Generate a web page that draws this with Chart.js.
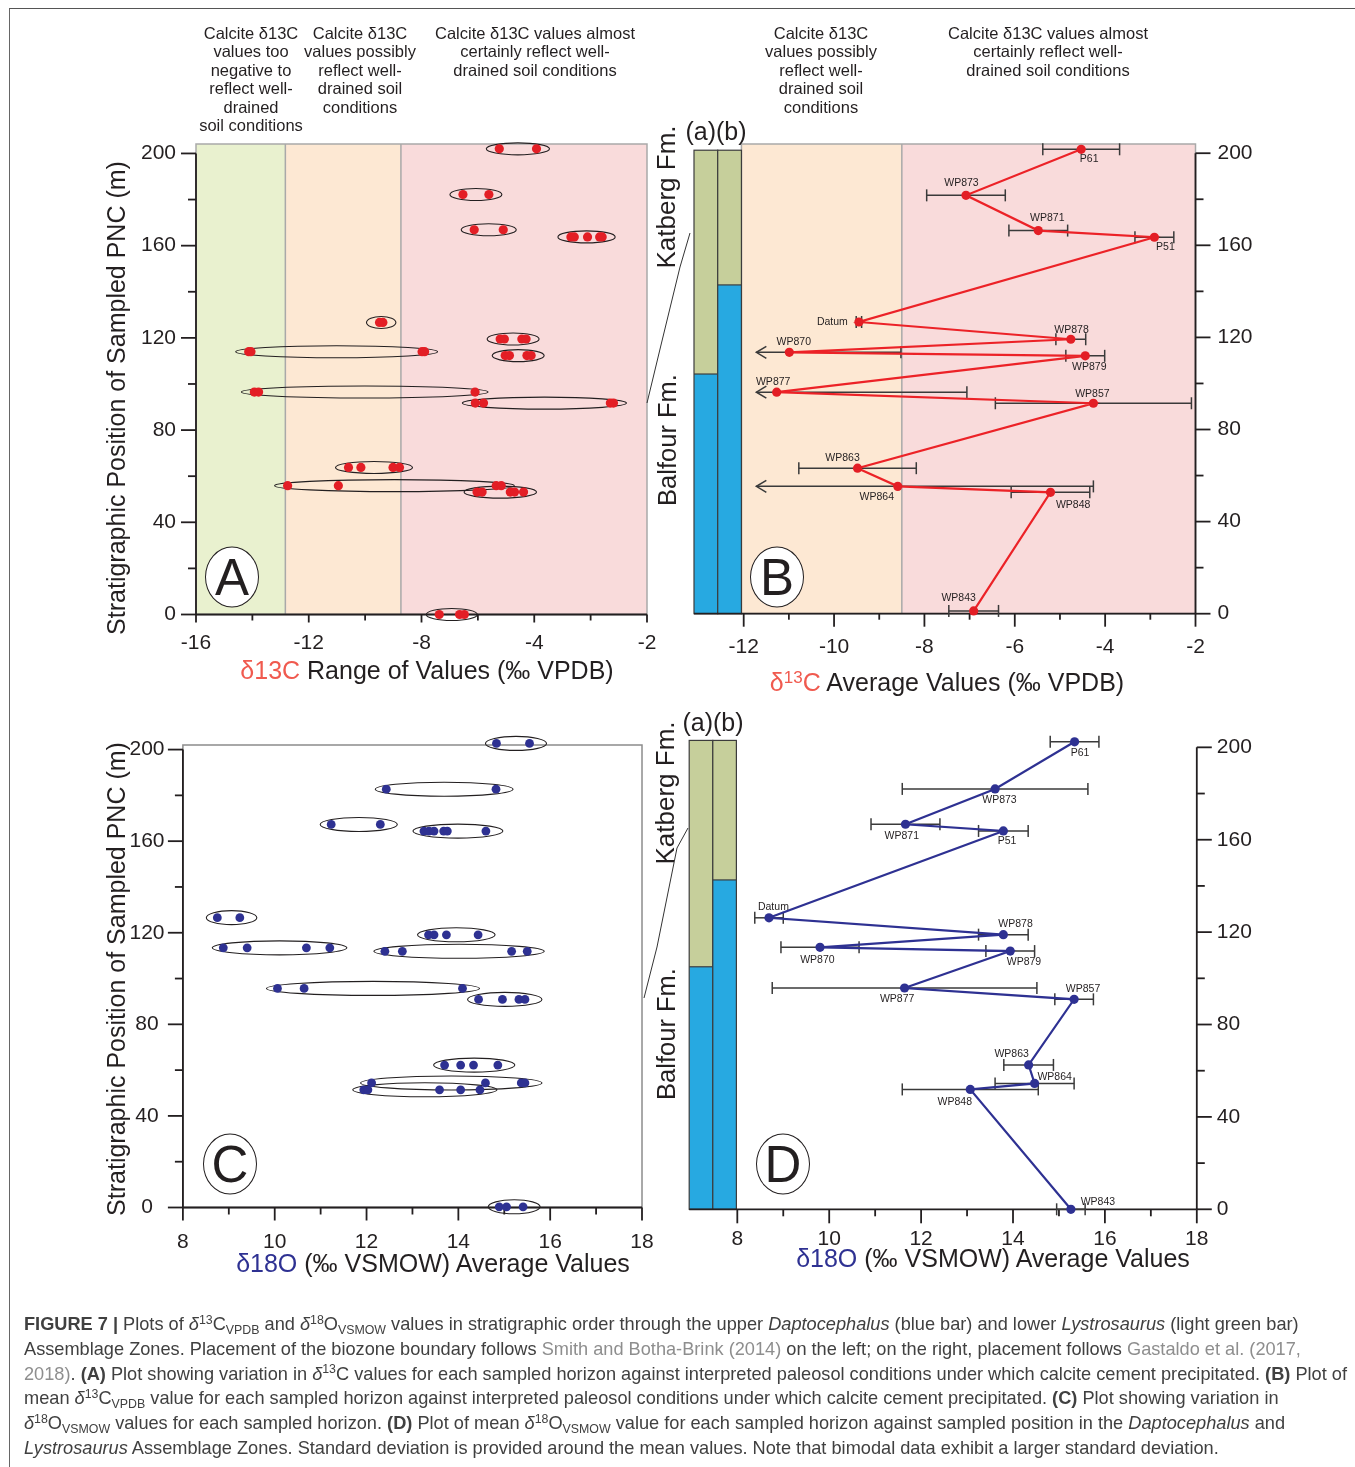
<!DOCTYPE html>
<html>
<head>
<meta charset="utf-8">
<script src="https://cdn.jsdelivr.net/npm/chart.js@4.4.1/dist/chart.umd.min.js"></script>
<style>
  body { margin: 0; background: #fff; width: 1355px; height: 1467px; position: relative; overflow: hidden;
         font-family: "Liberation Sans", Arial, sans-serif; color: #231f20; }
  canvas { position: absolute; }
  .note { position: absolute; text-align: center; font-size: 16.5px; line-height: 18.6px; transform: translateX(-50%); white-space: nowrap; z-index: 2; }
  .rot { position: absolute; white-space: nowrap; transform: translate(-50%, -50%) rotate(-90deg); line-height: 1; z-index: 2; }
  .xt { position: absolute; white-space: nowrap; transform: translate(-50%, -50%); font-size: 25px; line-height: 1; z-index: 2; }
  .ab { position: absolute; white-space: nowrap; transform: translate(-50%, -50%); font-size: 25px; line-height: 1; z-index: 2; }
  .panel { position: absolute; transform: translate(-50%, -50%); border: 1.3px solid #231f20; border-radius: 50%;
           width: 52px; height: 59px; display: flex; align-items: center; justify-content: center; font-size: 51px; line-height: 1; background: #fff; z-index: 2; }
  #frame { position: absolute; left: 9px; top: 8px; width: 1400px; height: 1500px; border-left: 1.5px solid #666; border-top: 1.5px solid #555; }
  .caption { position: absolute; left: 24px; top: 1312px; font-size: 18.2px; line-height: 24.8px; color: #404040; white-space: nowrap; z-index: 2; }
  .caption .ln { color: #8e8e8e; }
  sup, sub { font-size: 68%; line-height: 0; position: relative; vertical-align: baseline; }
  sup { top: -0.5em; }
  sub { top: 0.3em; }
  .red { color: #f05a4f; }
  .blue { color: #2e3192; }
  svg { position: absolute; left: 0; top: 0; z-index: 1; }
</style>
</head>
<body>
<div id="frame"></div>

<canvas id="chartA" width="700" height="580" style="left:0px;top:104px"></canvas>
<canvas id="chartB" width="715" height="620" style="left:640px;top:104px"></canvas>
<canvas id="chartC" width="700" height="600" style="left:0px;top:705px"></canvas>
<canvas id="chartD" width="715" height="600" style="left:640px;top:698px"></canvas>

<svg width="1355" height="1467">
  <polyline points="690,233 680,267 661,345 647,403" fill="none" stroke="#333" stroke-width="1"/>
  <polyline points="688,828 677,848 657,947 644,998" fill="none" stroke="#333" stroke-width="1"/>
</svg>

<!-- soil condition notes -->
<div class="note" style="left:251px;top:23.5px">Calcite δ13C<br>values too<br>negative to<br>reflect well-<br>drained<br>soil conditions</div>
<div class="note" style="left:360px;top:23.5px">Calcite δ13C<br>values possibly<br>reflect well-<br>drained soil<br>conditions</div>
<div class="note" style="left:535px;top:23.5px">Calcite δ13C values almost<br>certainly reflect well-<br>drained soil conditions</div>
<div class="note" style="left:821px;top:23.5px">Calcite δ13C<br>values possibly<br>reflect well-<br>drained soil<br>conditions</div>
<div class="note" style="left:1048px;top:23.5px">Calcite δ13C values almost<br>certainly reflect well-<br>drained soil conditions</div>

<!-- axis titles -->
<div class="rot" style="left:116px;top:398px;font-size:25px">Stratigraphic Position of Sampled PNC (m)</div>
<div class="rot" style="left:116px;top:979px;font-size:25px">Stratigraphic Position of Sampled PNC (m)</div>
<div class="xt" style="left:427px;top:670px"><span class="red">δ13C</span> Range of Values (‰ VPDB)</div>
<div class="xt" style="left:947px;top:682px"><span class="red">δ<sup>13</sup>C</span> Average Values (‰ VPDB)</div>
<div class="xt" style="left:433px;top:1263px"><span class="blue">δ18O</span> (‰ VSMOW) Average Values</div>
<div class="xt" style="left:993px;top:1258px"><span class="blue">δ18O</span> (‰ VSMOW) Average Values</div>

<!-- formations and biozone columns -->
<div class="rot" style="left:666px;top:197px;font-size:26px">Katberg Fm.</div>
<div class="rot" style="left:668px;top:440px;font-size:25.5px">Balfour Fm.</div>
<div class="rot" style="left:665px;top:793px;font-size:26px">Katberg Fm.</div>
<div class="rot" style="left:667px;top:1034px;font-size:25.5px">Balfour Fm.</div>
<div class="ab" style="left:716px;top:131px">(a)(b)</div>
<div class="ab" style="left:713px;top:722px">(a)(b)</div>

<div class="panel" style="left:232px;top:577px">A</div>
<div class="panel" style="left:777px;top:577px">B</div>
<div class="panel" style="left:230px;top:1164px">C</div>
<div class="panel" style="left:783px;top:1164px">D</div>

<div class="caption"><b>FIGURE 7 |</b> Plots of <i>δ</i><sup>13</sup>C<sub>VPDB</sub> and <i>δ</i><sup>18</sup>O<sub>VSMOW</sub> values in stratigraphic order through the upper <i>Daptocephalus</i> (blue bar) and lower <i>Lystrosaurus</i> (light green bar)<br>Assemblage Zones. Placement of the biozone boundary follows <span class="ln">Smith and Botha-Brink (2014)</span> on the left; on the right, placement follows <span class="ln">Gastaldo et al. (2017,</span><br><span class="ln">2018)</span>. <b>(A)</b> Plot showing variation in <i>δ</i><sup>13</sup>C values for each sampled horizon against interpreted paleosol conditions under which calcite cement precipitated. <b>(B)</b> Plot of<br>mean <i>δ</i><sup>13</sup>C<sub>VPDB</sub> value for each sampled horizon against interpreted paleosol conditions under which calcite cement precipitated. <b>(C)</b> Plot showing variation in<br><i>δ</i><sup>18</sup>O<sub>VSMOW</sub> values for each sampled horizon. <b>(D)</b> Plot of mean <i>δ</i><sup>18</sup>O<sub>VSMOW</sub> value for each sampled horizon against sampled position in the <i>Daptocephalus</i> and<br><i>Lystrosaurus</i> Assemblage Zones. Standard deviation is provided around the mean values. Note that bimodal data exhibit a larger standard deviation.</div>

<script>
// depth axis shared by all four panels (m)
const depthTicks = [0, 40, 80, 120, 160, 200];
const depthMinor = [20, 60, 100, 140, 180];

// A: d13C range of values per sampled horizon
const aRowDepth = [202, 182.2, 166.9, 163.8, 126.7, 119.5, 114.0, 112.3, 96.5, 91.7, 63.8, 55.9, 53.1, 0];
const aRowValues = [
  [-5.24, -3.92],
  [-6.53, -5.61],
  [-6.13, -5.10],
  [-2.70, -2.58, -2.11, -1.68, -1.59],
  [-9.49, -9.37],
  [-5.21, -5.06, -4.44, -4.29],
  [-14.13, -14.05, -7.98, -7.89],
  [-5.03, -4.88, -4.26, -4.11],
  [-13.93, -13.78, -6.10],
  [-6.09, -5.80, -1.30, -1.19],
  [-10.59, -10.15, -9.01, -8.78],
  [-12.75, -10.95, -5.35, -5.17],
  [-6.03, -5.85, -4.85, -4.70, -4.38],
  [-7.37, -6.65, -6.48]
];
const aTicks = [-16, -12, -8, -4, 0];
const aTickLabels = ['-16', '-12', '-8', '-4', '-2'];
const aMinor = [-14, -10, -6, -2];
const aZoneEdges = [-16, -12.83, -8.73, 0];

// B and D: sampled horizons, in stratigraphic order
const samples = ['P61', 'WP873', 'WP871', 'P51', 'Datum', 'WP878', 'WP870', 'WP879', 'WP877', 'WP857', 'WP863', 'WP864', 'WP848', 'WP843'];

// B: mean d13C and standard deviation
const bDepth = [201.7, 181.7, 166.4, 163.5, 126.7, 119.2, 113.5, 112.0, 96.2, 91.4, 63.2, 55.3, 52.7, 1.2];
const bMean = [-4.53, -7.08, -5.48, -2.91, -9.45, -4.76, -10.99, -4.44, -11.27, -4.26, -9.48, -8.59, -5.21, -6.91];
const bSd = [0.85, 0.87, 0.65, 0.43, 0.06, 0.33, 2.47, 0.43, 4.21, 2.17, 1.30, 4.33, 0.87, 0.55];
const bTicks = [-12, -10, -8, -6, -4, -2];
const bMinor = [-11, -9, -7, -5, -3];
const bZoneEdges = [-12.05, -8.5, -2];
const bBiozone = [201.3, 104.1, 142.8]; // column top, boundary in (a), boundary in (b)

// C: d18O values per sampled horizon
const cRowDepth = [202.7, 182.7, 167.3, 164.4, 126.6, 119.1, 113.4, 111.9, 95.7, 90.9, 62.2, 54.4, 51.4, 0.3];
const cRowValues = [
  [14.83, 15.55],
  [12.43, 14.82],
  [11.23, 12.30],
  [13.25, 13.36, 13.47, 13.68, 13.76, 14.60],
  [8.75, 9.24],
  [13.35, 13.47, 13.74, 14.43],
  [8.88, 9.40, 10.69, 11.20],
  [12.40, 12.78, 15.16, 15.50],
  [10.06, 10.64, 14.09],
  [14.44, 14.96, 15.32, 15.45],
  [13.70, 14.05, 14.33, 14.86],
  [12.11, 14.59, 15.37, 15.45],
  [11.94, 12.03, 13.59, 14.05, 14.47],
  [14.89, 15.05, 15.41]
];
const oTicks = [8, 10, 12, 14, 16, 18];
const oMinor = [9, 11, 13, 15, 17];

// D: mean d18O and standard deviation
const dDepth = [202.4, 182.0, 166.7, 163.8, 126.2, 118.9, 113.4, 111.8, 95.8, 90.9, 62.5, 54.5, 51.9, 0];
const dMean = [15.34, 13.61, 11.66, 13.79, 8.69, 13.79, 9.80, 13.94, 11.64, 15.33, 14.34, 14.47, 13.07, 15.26];
const dSd = [0.53, 2.02, 0.75, 0.54, 0.31, 0.54, 0.85, 0.53, 2.88, 0.42, 0.54, 0.86, 1.48, 0.31];
const dBiozone = [203, 105, 142.6];

// styles
const FONT = '"Liberation Sans", Arial, sans-serif';
const RED = '#e31e25';
const BLUE = '#2e3192';
const INK = '#231f20';
const bandColors = ['#e9f1cf', '#fde8d3', '#f9dbdb'];
const bLabelOffsets = [[8, 10], [-4.5, -12.7], [9, -12], [11, 10], [-26.5, 0], [0.7, -9.3], [4.5, -10.3],
  [4, 11.7], [-3.5, -10], [-1, -9], [-15, -10.3], [-21, 10.7], [22.7, 12.3], [-15, -13.3]];
const dLabelOffsets = [[5.5, 11.7], [4.4, 11], [-3.7, 12.3], [3.7, 10.3], [4.4, -11], [12.2, -10.7], [-2.6, 12.7],
  [13.7, 11.3], [-7.4, 11.3], [8.9, -10.3], [-17, -11], [20, -6.7], [-15.5, 13], [27, -6.7]];

function rowsToPoints(depths, values) {
  return depths.flatMap((d, i) => values[i].map(v => ({ x: v, y: d })));
}

function line(ctx, x0, y0, x1, y1) {
  ctx.beginPath(); ctx.moveTo(x0, y0); ctx.lineTo(x1, y1); ctx.stroke();
}

function decorPlugin(o) {
  return {
    id: 'decor',
    beforeDatasetsDraw(chart) {
      const ctx = chart.ctx, a = chart.chartArea;
      const X = v => chart.scales.x.getPixelForValue(v), Y = v => chart.scales.y.getPixelForValue(v);
      ctx.save();
      // soil-condition bands
      if (o.bands) {
        const e = o.bands;
        for (let i = 1; i < e.length; i++) {
          ctx.fillStyle = bandColors[bandColors.length - e.length + i];
          ctx.fillRect(X(e[i - 1]), a.top, X(e[i]) - X(e[i - 1]), a.bottom - a.top);
        }
        ctx.strokeStyle = '#a9a9a9'; ctx.lineWidth = 1.5;
        ctx.strokeRect(X(e[0]), a.top, X(e[e.length - 1]) - X(e[0]), a.bottom - a.top);
        for (let i = 1; i < e.length - 1; i++) line(ctx, X(e[i]), a.top, X(e[i]), a.bottom);
      }
      if (o.frame) {
        ctx.strokeStyle = '#8c8c8c'; ctx.lineWidth = 1.5;
        ctx.strokeRect(a.left, a.top, a.right - a.left, a.bottom - a.top);
      }
      // biozone columns (a) and (b)
      if (o.zones) {
        const z = o.zones, xl = a.left, xr = X(o.zoneRight), xm = (xl + xr) / 2;
        [[xl, xm, z[1]], [xm, xr, z[2]]].forEach(([x0, x1, b]) => {
          ctx.fillStyle = '#c6cf9b'; ctx.fillRect(x0, Y(z[0]), x1 - x0, Y(b) - Y(z[0]));
          ctx.fillStyle = '#27a9e1'; ctx.fillRect(x0, Y(b), x1 - x0, Y(0) - Y(b));
          ctx.strokeStyle = '#3c3c3c'; ctx.lineWidth = 1.2;
          ctx.strokeRect(x0, Y(z[0]), x1 - x0, Y(0) - Y(z[0]));
          line(ctx, x0, Y(b), x1, Y(b));
        });
      }
      // axes with major / minor ticks
      ctx.strokeStyle = INK; ctx.lineWidth = 1.8;
      const right = o.ySide === 'right';
      const ax = right ? a.right : a.left, dir = right ? 1 : -1;
      line(ctx, ax, Y(0), ax, Y(200));
      depthTicks.forEach(v => line(ctx, ax, Y(v), ax + dir * 15, Y(v)));
      depthMinor.forEach(v => line(ctx, ax, Y(v), ax + dir * 8, Y(v)));
      line(ctx, a.left, Y(0), a.right, Y(0));
      o.xMajor.forEach(v => line(ctx, X(v), Y(0), X(v), Y(0) + o.xLen[0]));
      o.xMinor.forEach(v => line(ctx, X(v), Y(0), X(v), Y(0) + o.xLen[1]));
      // error bars (mean +/- sd), open arrow when off the axis
      if (o.err) {
        ctx.strokeStyle = '#3a3a3a'; ctx.lineWidth = 1.5;
        o.err.mean.forEach((m, i) => {
          const py = Y(o.err.depth[i]);
          const lo = m - o.err.sd[i], hi = m + o.err.sd[i];
          const cut = lo < o.err.arrowAt;
          const pl = X(cut ? o.err.arrowAt : lo), pr = X(hi);
          line(ctx, pl, py, pr, py);
          line(ctx, pr, py - 6, pr, py + 6);
          if (cut) {
            ctx.beginPath(); ctx.moveTo(pl + 10, py - 6); ctx.lineTo(pl, py); ctx.lineTo(pl + 10, py + 6); ctx.stroke();
          } else {
            line(ctx, pl, py - 6, pl, py + 6);
          }
        });
      }
      // ellipses around the values of each horizon
      if (o.rings) {
        ctx.strokeStyle = INK; ctx.lineWidth = 1.1;
        o.rings.depth.forEach((d, i) => {
          const px = o.rings.values[i].map(X);
          const x0 = Math.min(...px), x1 = Math.max(...px);
          ctx.beginPath();
          ctx.ellipse((x0 + x1) / 2 + o.rings.shift, Y(d), (x1 - x0) / 2 + o.rings.pad, o.rings.ry, 0, 0, Math.PI * 2);
          ctx.stroke();
        });
      }
      ctx.restore();
    },
    afterDatasetsDraw(chart) {
      if (!o.names) return;
      const ctx = chart.ctx;
      const X = v => chart.scales.x.getPixelForValue(v), Y = v => chart.scales.y.getPixelForValue(v);
      ctx.save();
      ctx.font = '10.5px ' + FONT; ctx.fillStyle = INK;
      ctx.textAlign = 'center'; ctx.textBaseline = 'middle';
      o.names.forEach((n, i) => {
        ctx.fillText(n, X(o.err.mean[i]) + o.offsets[i][0], Y(o.err.depth[i]) + o.offsets[i][1]);
      });
      ctx.restore();
    }
  };
}

function valueScale(min, max, ticks, labels, pad) {
  return {
    type: 'linear', min: min, max: max,
    afterBuildTicks: s => { s.ticks = ticks.map(v => ({ value: v })); },
    afterFit: s => { s.height = 50; },
    grid: { display: false, drawTicks: false },
    border: { display: false },
    ticks: { padding: pad, autoSkip: false, maxRotation: 0, color: INK, font: { size: 21, family: FONT },
             callback: (v, i) => labels[i] }
  };
}

function depthScale(side, max, pad, align) {
  return {
    type: 'linear', position: side, min: 0, max: max,
    afterBuildTicks: s => { s.ticks = depthTicks.map(v => ({ value: v })); },
    afterFit: s => { s.width = 60; },
    grid: { display: false, drawTicks: false },
    border: { display: false },
    ticks: { padding: pad, crossAlign: align, color: INK, font: { size: 21, family: FONT },
             callback: v => String(v) }
  };
}

function baseOptions(padding, x, y) {
  return {
    responsive: false, animation: false, devicePixelRatio: 1, events: [],
    layout: { padding: padding },
    plugins: { legend: { display: false }, tooltip: { enabled: false } },
    scales: { x: x, y: y }
  };
}

// A
new Chart(document.getElementById('chartA'), {
  type: 'scatter',
  data: { datasets: [{ data: rowsToPoints(aRowDepth, aRowValues), pointRadius: 4.6, backgroundColor: RED, borderWidth: 0, clip: false }] },
  options: baseOptions({ left: 136, right: 53, top: 40, bottom: 19.5 },
    valueScale(-16, 0, aTicks, aTickLabels, 16), depthScale('left', 204.1, 20, 'near')),
  plugins: [decorPlugin({ bands: aZoneEdges, ySide: 'left', xMajor: aTicks, xMinor: aMinor, xLen: [8, 6],
    rings: { depth: aRowDepth, values: aRowValues, pad: 13, ry: 6, shift: 0 } })]
});

// B
new Chart(document.getElementById('chartB'), {
  type: 'scatter',
  data: { datasets: [{ data: samples.map((s, i) => ({ x: bMean[i], y: bDepth[i] })), showLine: true,
    borderColor: '#ec2227', borderWidth: 2.2, pointRadius: 4.6, pointBackgroundColor: RED, pointBorderWidth: 0, clip: false }] },
  options: baseOptions({ left: 54, right: 99.5, top: 40, bottom: 60.3 },
    valueScale(-13.1, -2, bTicks, bTicks.map(String), 21), depthScale('right', 204, 22, 'near')),
  plugins: [decorPlugin({ bands: bZoneEdges, zones: bBiozone, zoneRight: -12.05, ySide: 'right',
    xMajor: bTicks, xMinor: bMinor, xLen: [13, 6],
    err: { depth: bDepth, mean: bMean, sd: bSd, arrowAt: -11.72 }, names: samples, offsets: bLabelOffsets })]
});

// C
new Chart(document.getElementById('chartC'), {
  type: 'scatter',
  data: { datasets: [{ data: rowsToPoints(cRowDepth, cRowValues), pointRadius: 4.4, backgroundColor: BLUE, borderWidth: 0, clip: false }] },
  options: baseOptions({ left: 122.9, right: 58, top: 40, bottom: 47.5 },
    valueScale(8, 18, oTicks, oTicks.map(String), 22), depthScale('left', 202, 18.4, 'center')),
  plugins: [decorPlugin({ frame: true, ySide: 'left', xMajor: oTicks, xMinor: oMinor, xLen: [13, 7],
    rings: { depth: cRowDepth, values: cRowValues, pad: 14, ry: 7, shift: 3 } })]
});

// D
new Chart(document.getElementById('chartD'), {
  type: 'scatter',
  data: { datasets: [{ data: samples.map((s, i) => ({ x: dMean[i], y: dDepth[i] })), showLine: true,
    borderColor: BLUE, borderWidth: 2.2, pointRadius: 4.6, pointBackgroundColor: BLUE, pointBorderWidth: 0, clip: false }] },
  options: baseOptions({ left: 49.2, right: 98.2, top: 40.1, bottom: 38.7 },
    valueScale(6.953, 18, oTicks, oTicks.map(String), 17), depthScale('right', 204, 20, 'near')),
  plugins: [decorPlugin({ zones: dBiozone, zoneRight: 7.98, ySide: 'right', xMajor: oTicks, xMinor: oMinor, xLen: [14, 7],
    err: { depth: dDepth, mean: dMean, sd: dSd, arrowAt: -99 }, names: samples, offsets: dLabelOffsets })]
});
</script>
</body>
</html>
